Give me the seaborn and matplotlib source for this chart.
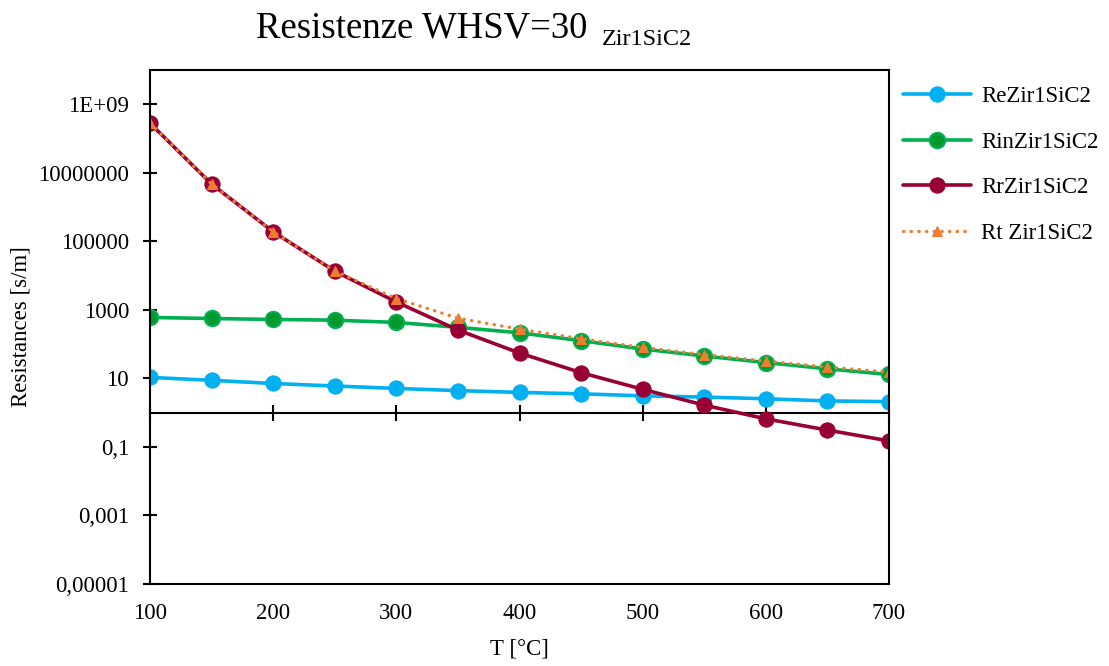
import numpy as np
import pandas as pd
import matplotlib
matplotlib.use("Agg")
import matplotlib.pyplot as plt
import seaborn as sns

# Temperatures [°C]
temperature = [100, 150, 200, 250, 300, 350, 400, 450, 500, 550, 600, 650, 700]

# Resistances [s/m]
r_e = [10.7, 8.8, 7.1, 6.0, 5.1, 4.4, 3.9, 3.55, 3.1, 2.85, 2.55, 2.2, 2.1]
r_in = [600, 560, 525, 500, 430, 310, 214, 126, 72, 45, 29, 19, 13]
r_r = [2.8e8, 4.7e6, 1.9e5, 1.35e4, 1700, 258, 55, 14.7, 4.8, 1.66, 0.66, 0.31, 0.15]
r_t = [2.8e8, 4.7e6, 1.9e5, 1.35e4, 2140, 572, 273, 144, 80, 49.5, 32, 21.5, 15.3]

series_names = ["ReZir1SiC2", "RinZir1SiC2", "RrZir1SiC2", "Rt Zir1SiC2"]

y_ticks = [1e-5, 1e-3, 1e-1, 10, 1e3, 1e5, 1e7, 1e9]
y_tick_labels = ["0,00001", "0,001", "0,1", "10", "1000", "100000", "10000000", "1E+09"]
x_ticks = [100, 200, 300, 400, 500, 600, 700]

sns.set_theme(style="white")
plt.rcParams["font.family"] = ["Liberation Serif", "DejaVu Serif"]
plt.rcParams["text.color"] = "black"
plt.rcParams["axes.labelcolor"] = "black"
plt.rcParams["xtick.color"] = "black"
plt.rcParams["ytick.color"] = "black"

df = pd.DataFrame({
    "T": temperature * 4,
    "R": r_e + r_in + r_r + r_t,
    "series": sum([[n] * len(temperature) for n in series_names], []),
})

fig = plt.figure(figsize=(11.09, 6.66), dpi=100)
ax = fig.add_axes([150 / 1109, 1 - 584 / 666, (889 - 150) / 1109, (584 - 70) / 666])

styles = {
    "ReZir1SiC2": dict(color="#00B0F0", marker="o", markersize=11, linewidth=2.6,
                       markerfacecolor="#00B0F0", markeredgecolor="#00B0F0", linestyle="-"),
    "RinZir1SiC2": dict(color="#00B050", marker="o", markersize=11, linewidth=2.6,
                        markerfacecolor="#009A2E", markeredgecolor="#00B050",
                        markeredgewidth=1.5, linestyle="-"),
    "RrZir1SiC2": dict(color="#990033", marker="o", markersize=11, linewidth=2.6,
                       markerfacecolor="#990033", markeredgecolor="#990033", linestyle="-"),
    "Rt Zir1SiC2": dict(color="#ED7D31", marker="^", markersize=7, linewidth=2.4,
                        markerfacecolor="#ED7D31", markeredgecolor="#ED7D31",
                        linestyle=(0, (0.1, 2.2)), dash_capstyle="round"),
}

for name in series_names:
    sub = df[df["series"] == name]
    sns.lineplot(data=sub, x="T", y="R", ax=ax, label=name, **styles[name])

ax.set_yscale("log")
ax.set_xlim(100, 700)
ax.set_ylim(1e-5, 1e10)
ax.set_yticks(y_ticks)
ax.set_yticklabels(y_tick_labels)
ax.yaxis.set_minor_locator(matplotlib.ticker.NullLocator())
ax.set_xticks(x_ticks)
ax.set_xticklabels([str(v) for v in x_ticks])

for side in ["left", "right", "top", "bottom"]:
    ax.spines[side].set_visible(True)
    ax.spines[side].set_color("black")
    ax.spines[side].set_linewidth(1.5)

ax.tick_params(axis="y", which="major", direction="inout", length=10, width=1.5,
               labelsize=16.5, pad=10, left=True, right=False, colors="black")
ax.tick_params(axis="x", which="major", length=0, labelsize=16.5, pad=14,
               bottom=True, colors="black")

ax.set_xlabel("T [°C]", fontsize=16.5, labelpad=10, color="black")
ax.set_ylabel("Resistances [s/m]", fontsize=16.5, labelpad=5, color="black")

# Category axis crossing the value axis at 1
ax2 = ax.twiny()
ax2.set_xlim(100, 700)
ax2.xaxis.set_ticks_position("bottom")
ax2.set_xticks(x_ticks)
ax2.set_xticklabels([])
ax2.tick_params(axis="x", which="major", direction="inout", length=12, width=1.5,
                labelbottom=False, labeltop=False, bottom=True, top=False, colors="black")
ax2.spines["bottom"].set_position(("data", 1))
ax2.spines["bottom"].set_visible(True)
ax2.spines["bottom"].set_linewidth(1.5)
ax2.spines["bottom"].set_color("black")
for side in ["left", "right", "top"]:
    ax2.spines[side].set_visible(False)
ax2.set_zorder(ax.get_zorder() - 1)
ax.patch.set_visible(False)

leg = ax.legend(loc="upper left", bbox_to_anchor=(903 / 1109, 1 - 86 / 666),
                bbox_transform=fig.transFigure, frameon=False, fontsize=16.5,
                handlelength=2.95, handletextpad=0.45, labelspacing=1.07,
                borderpad=0, borderaxespad=0)

fig.text(256 / 1109, 1 - 38 / 666, "Resistenze WHSV=30", fontsize=26.5,
         ha="left", va="baseline", color="black")
fig.text(602 / 1109, 1 - 45 / 666, "Zir1SiC2", fontsize=17.5,
         ha="left", va="baseline", color="black")

fig.savefig("out.png", dpi=100, facecolor="white")
